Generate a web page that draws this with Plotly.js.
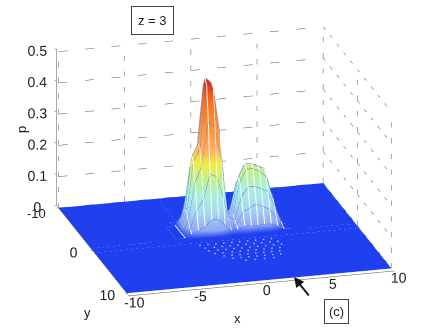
<!DOCTYPE html>
<html><head><meta charset="utf-8"><script src="https://cdn.plot.ly/plotly-3.0.1.min.js"></script>
<style>html,body{margin:0;padding:0;background:#fff}#c{width:436px;height:328px}</style></head><body><div id="c"></div>
<script>
const xVals=[-10,-3.5,-3,-2.5,-2,-1.5,-1,-0.5,0,0.5,1,1.5,2,2.5,3,3.5,4,4.5,5,10];
const yVals=[-10,-4.5,-4,-3.5,-3,-2.5,-2,-1.5,-1,-0.5,0,0.5,10];
const pRows=[
[0,0,0,0,0,0,0,0,0,0,0,0,0,0,0,0,0,0,0,0],
[0,0,0,0,.01,.01,.02,.02,.01,0,0,.01,.01,.01,.01,.01,.01,0,0,0],
[0,0,0,.01,.03,.04,.09,.08,.03,.01,.01,.03,.04,.04,.04,.04,.02,.01,0,0],
[0,0,0,.02,.08,.1,.2,.18,.08,.02,.02,.06,.08,.09,.09,.08,.04,.01,0,0],
[0,0,.01,.04,.14,.18,.34,.31,.16,.03,.03,.1,.13,.14,.15,.13,.07,.02,0,0],
[0,0,.01,.06,.2,.25,.46,.44,.26,.05,.05,.14,.17,.17,.19,.17,.09,.02,0,0],
[0,0,.01,.07,.24,.28,.49,.47,.33,.06,.05,.16,.2,.2,.19,.18,.1,.02,0,0],
[0,0,.01,.07,.23,.27,.47,.46,.31,.06,.05,.15,.19,.19,.18,.16,.09,.02,0,0],
[0,0,.01,.05,.17,.22,.36,.34,.23,.05,.04,.11,.14,.14,.13,.12,.07,.02,0,0],
[0,0,.01,.03,.09,.12,.2,.19,.12,.03,.03,.07,.08,.09,.08,.07,.04,.01,0,0],
[0,.01,.01,.02,.03,.04,.06,.06,.04,.02,.02,.03,.03,.03,.03,.03,.02,.01,.01,0],
[0,0,0,0,0,0,0,0,0,0,0,0,0,0,0,0,0,0,0,0],
[0,0,0,0,0,0,0,0,0,0,0,0,0,0,0,0,0,0,0,0]];
const speckX=[-6,-5.6,-5.2,-4.8,-4.4,-4,-3.7,-3.4,5.2,5.5,5.9,6.2,
 -2.2,-1.6,-1,-.4,.2,.8,1.4,2,2.6,3.2, -2,-1.3,-.7,-.1,.5,1.1,1.7,2.3,2.9,3.5, -1.9,-1.2,-.6,0,.6,1.2,1.8,2.4,3,3.6,
 -1.6,-1,-.3,.3,.9,1.5,2.1,2.7,3.3, -1.1,-.5,.1,.7,1.3,1.9,2.5,3.1, -.6,0,.6,1.2,1.8,2.4,3, .2,.9,1.6,2.3];
const speckY=[-.2,-.2,-.1,-.1,-.1,0,0,0,.1,.1,.1,.1,
 1.2,1.2,1.2,1.2,1.2,1.2,1.2,1.2,1.2,1.2, 1.9,1.9,1.9,1.9,1.9,1.9,1.9,1.9,1.9,1.9, 2.6,2.6,2.6,2.6,2.6,2.6,2.6,2.6,2.6,2.6,
 3.3,3.3,3.3,3.3,3.3,3.3,3.3,3.3,3.3, 4,4,4,4,4,4,4,4, 4.7,4.7,4.7,4.7,4.7,4.7,4.7, 5.4,5.4,5.4,5.4];
const xTicks=[-10,-5,0,5,10];
const xLabels=['-10','-5','0','5','10'];
const yTicks=[-10,0,10];
const yLabels=['','0','10'];
const zTicks=[0,0.1,0.2,0.3,0.4,0.5];
const gx=[],gy=[],gz=[];
function seg(a,b){gx.push(a[0],b[0],null);gy.push(a[1],b[1],null);gz.push(a[2],b[2],null);}
zTicks.forEach(z=>{seg([-10,-10,z],[10,-10,z]);seg([10,-10,z],[10,10,z]);});
xTicks.forEach(x=>seg([x,-10,0],[x,-10,0.5]));
yTicks.forEach(y=>seg([10,y,0],[10,y,0.5]));
const wx=[],wy=[],wz=[],rx=[],ry=[],rz=[];
xVals.forEach((x,i)=>{yVals.forEach((y,j)=>{const v=pRows[j][i];if(v>0.005){wx.push(x);wy.push(y);wz.push(v+0.002);}else{wx.push(null);wy.push(null);wz.push(null);}});wx.push(null);wy.push(null);wz.push(null);});
yVals.forEach((y,j)=>{xVals.forEach((x,i)=>{const v=pRows[j][i];if(v>0.005){rx.push(x);ry.push(y);rz.push(v+0.002);}else{rx.push(null);ry.push(null);rz.push(null);}});rx.push(null);ry.push(null);rz.push(null);});
const axis={showgrid:false,zeroline:false,showbackground:false,showspikes:false,showline:true,linecolor:'#555',linewidth:1,tickangle:0,
 ticks:'outside',ticklen:2,tickcolor:'#555',tickfont:{family:'Liberation Sans',size:13,color:'#222'}};
const scale=[[0,'#2040f0'],[.02,'#2040f0'],[.06,'#8fa8f0'],[.16,'#a8d8f0'],[.26,'#a8f0e0'],[.36,'#c0f090'],[.46,'#f0f040'],[.54,'#ffb060'],[.85,'#f87018'],[.95,'#e03010'],[1,'#902000']];
const traces=[
{type:'surface',x:xVals,y:yVals,z:pRows,cmin:0,cmax:0.5,showscale:false,hoverinfo:'skip',colorscale:scale,
 lighting:{ambient:1,diffuse:0,specular:0,roughness:1,fresnel:0}},
{type:'scatter3d',mode:'lines',x:gx,y:gy,z:gz,line:{color:'#555',width:1,dash:'dot'},hoverinfo:'skip',showlegend:false},
{type:'scatter3d',mode:'lines',x:wx,y:wy,z:wz,line:{color:'#ffffff',width:2},hoverinfo:'skip',showlegend:false},
{type:'scatter3d',mode:'lines',x:rx,y:ry,z:rz,line:{color:'#5078e8',width:1},hoverinfo:'skip',showlegend:false},
{type:'scatter3d',mode:'markers',x:speckX,y:speckY,z:speckX.map(()=>0.002),marker:{size:1,color:'#a8b8f8',line:{width:0}},hoverinfo:'skip',showlegend:false}
];
function note(t,px,py,extra){return Object.assign({xref:'paper',yref:'paper',x:px/436,y:1-py/328,xanchor:'center',yanchor:'middle',text:t,showarrow:false},extra||{});}
const layout={width:436,height:328,margin:{l:0,r:0,t:0,b:0},paper_bgcolor:'#fff',showlegend:false,
 font:{family:'Liberation Sans',size:13,color:'#222'},
 scene:{domain:{x:[0.033,1],y:[0.025,1]},aspectmode:'manual',aspectratio:{x:1.715,y:1.715,z:1.04},
  camera:{projection:{type:'orthographic'},up:{x:0,y:0,z:1},center:{x:0,y:0,z:0},eye:{x:-0.37,y:-1.35,z:0.51}},
  xaxis:Object.assign({},axis,{range:[-10,10],tickmode:'array',tickvals:xTicks,ticktext:xLabels,title:{text:''}}),
  yaxis:Object.assign({},axis,{range:[10,-10],autorange:'reversed',tickmode:'array',tickvals:yTicks,ticktext:yLabels,title:{text:''}}),
  zaxis:Object.assign({},axis,{range:[0,0.5],tickvals:zTicks,title:{text:''}})},
 annotations:[
 note('z = 3',152,20,{bordercolor:'#444',borderwidth:1,borderpad:6}),
 note('(c)',336,311,{bordercolor:'#444',borderwidth:1,borderpad:4}),
 {xref:'paper',yref:'paper',x:294/436,y:1-277/328,ax:16,ay:20,text:'',showarrow:true,arrowhead:2,arrowwidth:2,arrowcolor:'#111'},
 note('x',237,318),note('y',87,312),note('p',21,130,{textangle:-90}),note('-10',36,213)
 ]};
Plotly.newPlot('c',traces,layout,{displayModeBar:false});
</script></body></html>
